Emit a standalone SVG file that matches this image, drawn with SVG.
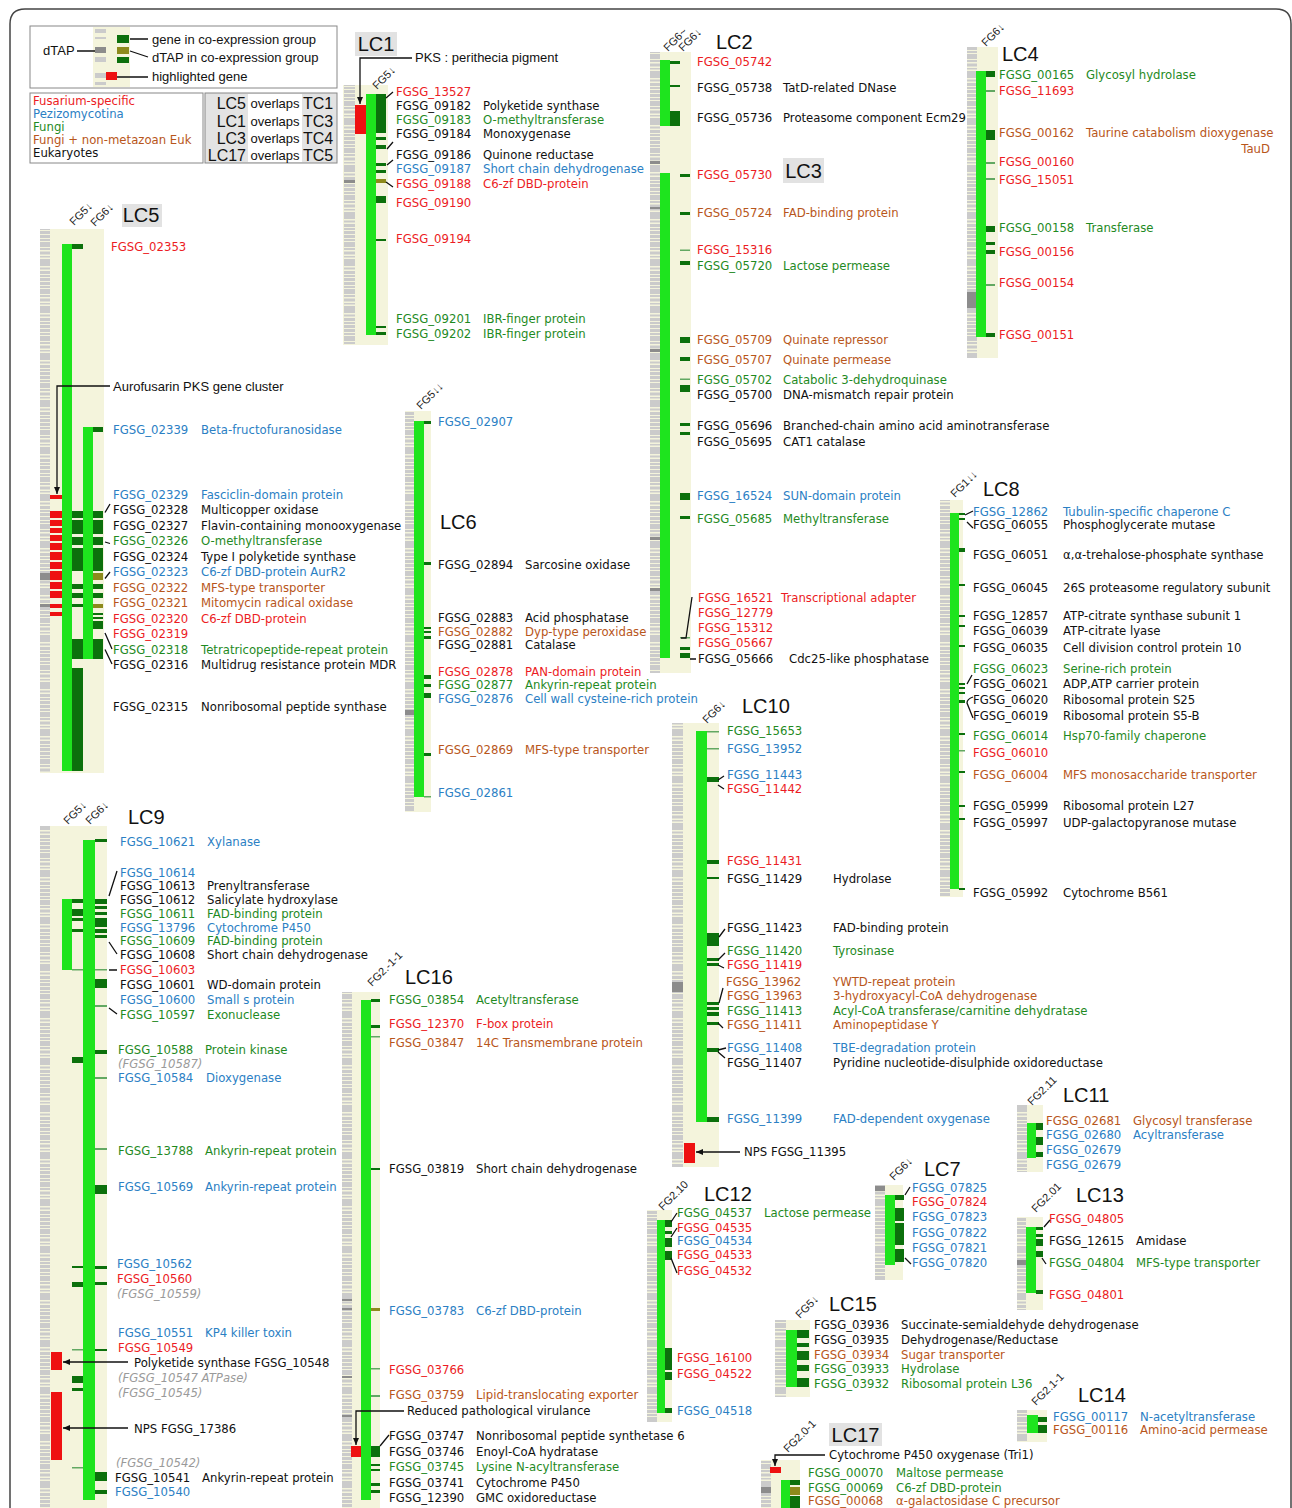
<svg xmlns="http://www.w3.org/2000/svg" width="1292" height="1508" viewBox="0 0 1292 1508">
<defs>
<style>
.t{font-family:"DejaVu Sans",Verdana,sans-serif;font-size:11.7px}
.r{fill:#ec1c24}.b{fill:#2b80c4}.g{fill:#1f8a1f}.o{fill:#b8561b}.k{fill:#111}.i{fill:#9a9a9a;font-style:italic}
.lc{font-family:"Liberation Sans",Arial,sans-serif;font-size:20px;fill:#111}
.fg{font-family:"Liberation Sans",Arial,sans-serif;font-size:11px;fill:#222}
.lg{font-family:"Liberation Sans",Arial,sans-serif;font-size:13px;fill:#111}
.bg{fill:#f4f4dc}.gr{fill:url(#gs)}.gb{fill:#1ee41e}.dg{fill:#0c700c}.lm{fill:#62a862}.ol{fill:#8d8a1c}.rd{fill:#ee1111}.dk{fill:#8c8c8c}
.ln{stroke:#111;stroke-width:1.3;fill:none}
.lbox{fill:#e2e2e2}
</style>
<pattern id="gs" patternUnits="userSpaceOnUse" width="12" height="47">
<path fill="#cbcbcb" d="M0 0h12v3H0z M0 4h12v2H0z M0 7h12v5H0z M0 13h12v2H0z M0 16.5h12v3H0z M0 21h12v1.5H0z M0 24h12v7H0z M0 32.5h12v2H0z M0 36h12v3H0z M0 40h12v2H0z M0 43h12v3H0z"/>
</pattern>
<marker id="ah" markerUnits="userSpaceOnUse" markerWidth="8" markerHeight="8" refX="7" refY="4" orient="auto"><path d="M0,1 L7,4 L0,7 z" fill="#111"/></marker>
</defs>
<rect width="1292" height="1508" fill="#fff"/>
<path d="M10,1508 V24 Q10,9 25,9 H1276 Q1291,9 1291,24 V1508" fill="none" stroke="#444" stroke-width="1.5"/>

<g id="legend">
<rect x="30" y="26" width="307" height="62" fill="#fff" stroke="#888"/>
<rect class="bg" x="93" y="27" width="37" height="60"/>
<path fill="#cbcbcb" d="M95 29h11v4H95z M95 37h11v2H95z M95 57h11v5H95z M95 73h11v5H95z M95 82h11v3H95z"/>
<rect class="dk" x="95" y="47" width="11" height="6"/>
<rect class="dg" x="117" y="35" width="12" height="8"/>
<rect class="ol" x="117" y="47" width="12" height="7"/>
<rect class="dg" x="117" y="57" width="12" height="6"/>
<rect class="rd" x="106" y="72" width="11" height="8"/>
<text class="lg" x="43" y="55">dTAP</text>
<text class="lg" x="152" y="43.5">gene in co-expression group</text>
<text class="lg" x="152" y="62">dTAP in co-expression group</text>
<text class="lg" x="152" y="81">highlighted gene</text>
<rect x="30" y="93" width="173" height="70" fill="#fff" stroke="#888"/>
<text class="t r" x="33" y="105">Fusarium-specific</text>
<text class="t b" x="33" y="117.5">Pezizomycotina</text>
<text class="t g" x="33" y="130.5">Fungi</text>
<text class="t o" x="33" y="143.5">Fungi + non-metazoan Euk</text>
<text class="t k" x="33" y="157">Eukaryotes</text>
<rect x="205" y="93" width="132" height="70" fill="#e3e3e3" stroke="#888"/>
<rect x="248" y="94" width="54" height="68" fill="#fff"/>
<g font-family="Liberation Sans,Arial,sans-serif" fill="#111">
<text x="246" y="109" font-size="16" text-anchor="end">LC5</text><text x="275" y="107.5" font-size="13" text-anchor="middle">overlaps</text><text x="303" y="109" font-size="16">TC1</text>
<text x="246" y="127" font-size="16" text-anchor="end">LC1</text><text x="275" y="125.5" font-size="13" text-anchor="middle">overlaps</text><text x="303" y="127" font-size="16">TC3</text>
<text x="246" y="144" font-size="16" text-anchor="end">LC3</text><text x="275" y="142.5" font-size="13" text-anchor="middle">overlaps</text><text x="303" y="144" font-size="16">TC4</text>
<text x="246" y="161" font-size="16" text-anchor="end">LC17</text><text x="275" y="159.5" font-size="13" text-anchor="middle">overlaps</text><text x="303" y="161" font-size="16">TC5</text>
</g>
</g>

<g id="LC1">
<rect class="bg" x="343" y="85" width="45" height="260"/>
<rect class="gr" x="344" y="85" width="11" height="260"/>
<rect class="dk" x="344" y="180" width="11" height="3"/>
<rect class="rd" x="355" y="105" width="11" height="29"/>
<rect class="gb" x="366" y="94" width="10" height="241"/>
<path class="dg" d="M376 94h10v39h-10z M376 137h10v3h-10z M376 145h10v4h-10z M376 163h10v3h-10z M376 170h10v3h-10z M376 196h10v7h-10z M376 239h10v2h-10z M376 326h10v2h-10z M376 332h10v3h-10z"/>
<rect class="ol" x="376" y="179" width="10" height="4"/>
<rect class="lbox" x="355" y="32" width="42" height="24"/>
<text class="lc" x="376" y="51" text-anchor="middle">LC1</text>
<text class="fg" transform="translate(377,90) rotate(-45)">FG5↓</text>
<text class="lg" x="415" y="62">PKS : perithecia pigment</text>
<text class="t r" y="96"><tspan x="396">FGSG_13527</tspan></text>
<text class="t k" y="110"><tspan x="396">FGSG_09182</tspan><tspan x="483">Polyketide synthase</tspan></text>
<text class="t g" y="124"><tspan x="396">FGSG_09183</tspan><tspan x="483">O-methyltransferase</tspan></text>
<text class="t k" y="138"><tspan x="396">FGSG_09184</tspan><tspan x="483">Monoxygenase</tspan></text>
<text class="t k" y="159"><tspan x="396">FGSG_09186</tspan><tspan x="483">Quinone reductase</tspan></text>
<text class="t b" y="173"><tspan x="396">FGSG_09187</tspan><tspan x="483">Short chain dehydrogenase</tspan></text>
<text class="t r" y="188"><tspan x="396">FGSG_09188</tspan><tspan x="483">C6-zf DBD-protein</tspan></text>
<text class="t r" y="207"><tspan x="396">FGSG_09190</tspan></text>
<text class="t r" y="243"><tspan x="396">FGSG_09194</tspan></text>
<text class="t g" y="323"><tspan x="396">FGSG_09201</tspan><tspan x="483">IBR-finger protein</tspan></text>
<text class="t g" y="338"><tspan x="396">FGSG_09202</tspan><tspan x="483">IBR-finger protein</tspan></text>
</g>

<g id="LC2-LC3">
<rect class="bg" x="650" y="52" width="41" height="621"/>
<rect class="gr" x="650" y="52" width="10" height="621"/>
<path class="dk" d="M650 161h10v3h-10z M650 207h10v2h-10z M650 349h10v3h-10z M650 537h10v3h-10z M650 588h10v3h-10z"/>
<rect class="gb" x="660" y="60" width="10" height="66"/>
<path class="dg" d="M670 61h10v3h-10z M670 85h10v2h-10z M670 111h10v15h-10z"/>
<rect class="gb" x="660" y="173" width="10" height="485"/>
<path class="dg" d="M680 174h10v3h-10z M680 212h10v3h-10z M680 261h10v4h-10z M680 337h10v6h-10z M680 357h10v4h-10z M680 385h10v7h-10z M680 423h10v3h-10z M680 432h10v3h-10z M680 493h10v7h-10z M680 516h10v3h-10z M680 647h10v3h-10z M680 653h10v5h-10z"/>
<path class="lm" d="M680 249.5h10v1.5h-10z M680 378.5h10v1.5h-10z M680 637h10v1.5h-10z"/>
<text class="fg" transform="translate(668,52) rotate(-45)">FG6~</text>
<text class="fg" transform="translate(683,52) rotate(-45)">FG6↓</text>
<text class="lc" x="716" y="49">LC2</text>
<rect class="lbox" x="783" y="158" width="41" height="25"/>
<text class="lc" x="803.5" y="178" text-anchor="middle">LC3</text>
<text class="t r" y="66"><tspan x="697">FGSG_05742</tspan></text>
<text class="t k" y="92"><tspan x="697">FGSG_05738</tspan><tspan x="783">TatD-related DNase</tspan></text>
<text class="t k" y="122"><tspan x="697">FGSG_05736</tspan><tspan x="783">Proteasome component Ecm29</tspan></text>
<text class="t r" y="179"><tspan x="697">FGSG_05730</tspan></text>
<text class="t o" y="217"><tspan x="697">FGSG_05724</tspan><tspan x="783">FAD-binding protein</tspan></text>
<text class="t r" y="254"><tspan x="697">FGSG_15316</tspan></text>
<text class="t g" y="270"><tspan x="697">FGSG_05720</tspan><tspan x="783">Lactose permease</tspan></text>
<text class="t o" y="344"><tspan x="697">FGSG_05709</tspan><tspan x="783">Quinate repressor</tspan></text>
<text class="t o" y="364"><tspan x="697">FGSG_05707</tspan><tspan x="783">Quinate permease</tspan></text>
<text class="t g" y="384"><tspan x="697">FGSG_05702</tspan><tspan x="783">Catabolic 3-dehydroquinase</tspan></text>
<text class="t k" y="399"><tspan x="697">FGSG_05700</tspan><tspan x="783">DNA-mismatch repair protein</tspan></text>
<text class="t k" y="430"><tspan x="697">FGSG_05696</tspan><tspan x="783">Branched-chain amino acid aminotransferase</tspan></text>
<text class="t k" y="446"><tspan x="697">FGSG_05695</tspan><tspan x="783">CAT1 catalase</tspan></text>
<text class="t b" y="500"><tspan x="697">FGSG_16524</tspan><tspan x="783">SUN-domain protein</tspan></text>
<text class="t g" y="523"><tspan x="697">FGSG_05685</tspan><tspan x="783">Methyltransferase</tspan></text>
<text class="t r" y="602"><tspan x="698">FGSG_16521</tspan><tspan x="781">Transcriptional adapter</tspan></text>
<text class="t r" y="617"><tspan x="698">FGSG_12779</tspan></text>
<text class="t r" y="632"><tspan x="698">FGSG_15312</tspan></text>
<text class="t r" y="647"><tspan x="698">FGSG_05667</tspan></text>
<text class="t k" y="663"><tspan x="698">FGSG_05666</tspan><tspan x="789">Cdc25-like phosphatase</tspan></text>
</g>

<g id="LC4">
<rect class="bg" x="967" y="47" width="31" height="311"/>
<rect class="gr" x="967" y="47" width="10" height="311"/>
<rect class="dk" x="967" y="292" width="10" height="16"/>
<rect class="gb" x="976" y="71" width="10" height="266"/>
<path class="dg" d="M986 71h9v6h-9z M986 130h9v10h-9z M986 226h9v6h-9z M986 242h9v3h-9z M986 250h9v4h-9z M986 333h9v4h-9z"/>
<path class="lm" d="M986 90h9v2h-9z M986 162h9v2h-9z M986 178h9v2h-9z M986 284h9v2h-9z"/>
<text class="fg" transform="translate(986,47) rotate(-45)">FG6↓</text>
<text class="lc" x="1002" y="61">LC4</text>
<text class="t g" y="79"><tspan x="999">FGSG_00165</tspan><tspan x="1086">Glycosyl hydrolase</tspan></text>
<text class="t r" y="95"><tspan x="999">FGSG_11693</tspan></text>
<text class="t o" y="137"><tspan x="999">FGSG_00162</tspan><tspan x="1086">Taurine catabolism dioxygenase</tspan></text>
<text class="t o" x="1270" y="153" text-anchor="end">TauD</text>
<text class="t r" y="166"><tspan x="999">FGSG_00160</tspan></text>
<text class="t r" y="184"><tspan x="999">FGSG_15051</tspan></text>
<text class="t g" y="232"><tspan x="999">FGSG_00158</tspan><tspan x="1086">Transferase</tspan></text>
<text class="t r" y="256"><tspan x="999">FGSG_00156</tspan></text>
<text class="t r" y="287"><tspan x="999">FGSG_00154</tspan></text>
<text class="t r" y="339"><tspan x="999">FGSG_00151</tspan></text>
</g>

<g id="LC5">
<rect class="bg" x="40" y="229" width="64" height="544"/>
<rect class="gr" x="40" y="229" width="10" height="544"/>
<path class="dk" d="M40 573h10v7h-10z M40 604h10v3h-10z"/>
<path class="rd" d="M50 495h12v4h-12z M50 511h12v7h-12z M50 520h12v6h-12z M50 528h12v5h-12z M50 535h12v6h-12z M50 543h12v7h-12z M50 552h12v8h-12z M50 562h12v7h-12z M50 571h12v9h-12z M50 582h12v7h-12z M50 591h12v7h-12z M50 604h12v4h-12z M50 612h12v4h-12z"/>
<rect class="gb" x="62" y="244" width="10" height="527"/>
<rect class="gb" x="83" y="427" width="10" height="232"/>
<path class="dg" d="M72 244h11v5h-11z M72 511h11v7h-11z M72 520h11v14h-11z M72 537h11v8h-11z M72 548h11v23h-11z M72 584h11v5h-11z M72 593h11v5h-11z M72 604h11v3h-11z M72 639h11v20h-11z M72 668h11v103h-11z"/>
<path class="dg" d="M93 427h10v5h-10z M93 511h10v7h-10z M93 520h10v14h-10z M93 537h10v8h-10z M93 548h10v23h-10z M93 584h10v5h-10z M93 593h10v5h-10z M93 613h10v2h-10z M93 617h10v2h-10z M93 621h10v8h-10z M93 639h10v20h-10z"/>
<path class="ol" d="M93 573h10v7h-10z M93 604h10v4h-10z"/>
<text class="fg" transform="translate(74,226) rotate(-45)">FG5↓</text>
<text class="fg" transform="translate(95,227) rotate(-45)">FG6↓</text>
<rect class="lbox" x="122" y="204" width="40" height="23"/>
<text class="lc" x="141" y="222" text-anchor="middle">LC5</text>
<text class="t r" y="251"><tspan x="111">FGSG_02353</tspan></text>
<text class="lg" x="113" y="391">Aurofusarin PKS gene cluster</text>
<text class="t b" y="434"><tspan x="113">FGSG_02339</tspan><tspan x="201">Beta-fructofuranosidase</tspan></text>
<text class="t b" y="498.5"><tspan x="113">FGSG_02329</tspan><tspan x="201">Fasciclin-domain protein</tspan></text>
<text class="t k" y="514"><tspan x="113">FGSG_02328</tspan><tspan x="201">Multicopper oxidase</tspan></text>
<text class="t k" y="529.5"><tspan x="113">FGSG_02327</tspan><tspan x="201">Flavin-containing monooxygenase</tspan></text>
<text class="t g" y="545"><tspan x="113">FGSG_02326</tspan><tspan x="201">O-methyltransferase</tspan></text>
<text class="t k" y="560.5"><tspan x="113">FGSG_02324</tspan><tspan x="201">Type I polyketide synthase</tspan></text>
<text class="t b" y="576"><tspan x="113">FGSG_02323</tspan><tspan x="201">C6-zf DBD-protein AurR2</tspan></text>
<text class="t o" y="591.5"><tspan x="113">FGSG_02322</tspan><tspan x="201">MFS-type transporter</tspan></text>
<text class="t o" y="607"><tspan x="113">FGSG_02321</tspan><tspan x="201">Mitomycin radical oxidase</tspan></text>
<text class="t r" y="622.5"><tspan x="113">FGSG_02320</tspan><tspan x="201">C6-zf DBD-protein</tspan></text>
<text class="t r" y="638"><tspan x="113">FGSG_02319</tspan></text>
<text class="t g" y="653.5"><tspan x="113">FGSG_02318</tspan><tspan x="201">Tetratricopeptide-repeat protein</tspan></text>
<text class="t k" y="669"><tspan x="113">FGSG_02316</tspan><tspan x="201">Multidrug resistance protein MDR</tspan></text>
<text class="t k" y="711"><tspan x="113">FGSG_02315</tspan><tspan x="201">Nonribosomal peptide synthase</tspan></text>
</g>

<g id="LC6">
<rect class="bg" x="405" y="411" width="26" height="401"/>
<rect class="gr" x="405" y="411" width="9" height="401"/>
<rect class="dk" x="405" y="710" width="9" height="5"/>
<rect class="gb" x="414" y="421" width="10" height="376"/>
<path class="dg" d="M424 421h7v3h-7z M424 562h7v3h-7z M424 627h7v2h-7z M424 631h7v2h-7z M424 636h7v3h-7z M424 675h7v4h-7z M424 684h7v3h-7z M424 693h7v5h-7z M424 753h7v3h-7z"/>
<rect class="lm" x="424" y="796" width="7" height="1.5"/>
<text class="fg" transform="translate(421,410) rotate(-45)">FG5↓↓</text>
<text class="lc" x="440" y="529">LC6</text>
<text class="t b" y="426"><tspan x="438">FGSG_02907</tspan></text>
<text class="t k" y="569"><tspan x="438">FGSG_02894</tspan><tspan x="525">Sarcosine oxidase</tspan></text>
<text class="t k" y="622"><tspan x="438">FGSG_02883</tspan><tspan x="525">Acid phosphatase</tspan></text>
<text class="t o" y="636"><tspan x="438">FGSG_02882</tspan><tspan x="525">Dyp-type peroxidase</tspan></text>
<text class="t k" y="649"><tspan x="438">FGSG_02881</tspan><tspan x="525">Catalase</tspan></text>
<text class="t r" y="676"><tspan x="438">FGSG_02878</tspan><tspan x="525">PAN-domain protein</tspan></text>
<text class="t g" y="689"><tspan x="438">FGSG_02877</tspan><tspan x="525">Ankyrin-repeat protein</tspan></text>
<text class="t b" y="703"><tspan x="438">FGSG_02876</tspan><tspan x="525">Cell wall cysteine-rich protein</tspan></text>
<text class="t o" y="754"><tspan x="438">FGSG_02869</tspan><tspan x="525">MFS-type transporter</tspan></text>
<text class="t b" y="797"><tspan x="438">FGSG_02861</tspan></text>
</g>

<g id="LC8">
<rect class="bg" x="940" y="500" width="23" height="397"/>
<rect class="gr" x="940" y="500" width="10" height="397"/>
<rect class="gb" x="950" y="513" width="9" height="376"/>
<path class="dg" d="M959 513h6v2h-6z M959 518h6v2h-6z M959 548h6v4h-6z M959 584h6v2h-6z M959 615h6v2h-6z M959 625h6v2h-6z M959 645h6v2h-6z M959 683h6v2h-6z M959 687h6v2h-6z M959 692h6v2h-6z M959 700h6v3h-6z M959 733h6v2h-6z M959 771h6v2h-6z M959 805h6v2h-6z M959 818h6v2h-6z M959 888h6v2h-6z"/>
<rect class="lm" x="959" y="750" width="6" height="1.5"/>
<text class="fg" transform="translate(955,498) rotate(-45)">FG1↓↓</text>
<text class="lc" x="983" y="496">LC8</text>
<text class="t b" y="516"><tspan x="973">FGSG_12862</tspan><tspan x="1063">Tubulin-specific chaperone C</tspan></text>
<text class="t k" y="529"><tspan x="973">FGSG_06055</tspan><tspan x="1063">Phosphoglycerate mutase</tspan></text>
<text class="t k" y="559"><tspan x="973">FGSG_06051</tspan><tspan x="1063">α,α-trehalose-phosphate synthase</tspan></text>
<text class="t k" y="592"><tspan x="973">FGSG_06045</tspan><tspan x="1063">26S proteasome regulatory subunit</tspan></text>
<text class="t k" y="620"><tspan x="973">FGSG_12857</tspan><tspan x="1063">ATP-citrate synthase subunit 1</tspan></text>
<text class="t k" y="635"><tspan x="973">FGSG_06039</tspan><tspan x="1063">ATP-citrate lyase</tspan></text>
<text class="t k" y="652"><tspan x="973">FGSG_06035</tspan><tspan x="1063">Cell division control protein 10</tspan></text>
<text class="t g" y="673"><tspan x="973">FGSG_06023</tspan><tspan x="1063">Serine-rich protein</tspan></text>
<text class="t k" y="688"><tspan x="973">FGSG_06021</tspan><tspan x="1063">ADP,ATP carrier protein</tspan></text>
<text class="t k" y="704"><tspan x="973">FGSG_06020</tspan><tspan x="1063">Ribosomal protein S25</tspan></text>
<text class="t k" y="720"><tspan x="973">FGSG_06019</tspan><tspan x="1063">Ribosomal protein S5-B</tspan></text>
<text class="t g" y="740"><tspan x="973">FGSG_06014</tspan><tspan x="1063">Hsp70-family chaperone</tspan></text>
<text class="t r" y="757"><tspan x="973">FGSG_06010</tspan></text>
<text class="t o" y="779"><tspan x="973">FGSG_06004</tspan><tspan x="1063">MFS monosaccharide transporter</tspan></text>
<text class="t k" y="810"><tspan x="973">FGSG_05999</tspan><tspan x="1063">Ribosomal protein L27</tspan></text>
<text class="t k" y="827"><tspan x="973">FGSG_05997</tspan><tspan x="1063">UDP-galactopyranose mutase</tspan></text>
<text class="t k" y="897"><tspan x="973">FGSG_05992</tspan><tspan x="1063">Cytochrome B561</tspan></text>
</g>

<g id="LC9">
<rect class="bg" x="40" y="826" width="67" height="682"/>
<rect class="gr" x="40" y="826" width="10" height="682"/>
<path class="rd" d="M51 1352h11v18h-11z M51 1392h11v68h-11z"/>
<rect class="gb" x="62" y="899" width="10" height="71"/>
<rect class="lm" x="72" y="969" width="35" height="1.5"/>
<rect class="gb" x="83" y="840" width="12" height="660"/>
<path class="dg" d="M72 899h11v4h-11z M72 909h11v7h-11z M72 918h11v3h-11z M72 929h11v3h-11z M72 1057h11v6h-11z M72 1266h11v2h-11z M72 1282h11v5h-11z M72 1376h11v7h-11z M72 1388h11v3h-11z"/>
<path class="lm" d="M72 1349h11v1.5h-11z M72 1467h11v1.5h-11z"/>
<path class="dg" d="M95 839h12v3h-12z M95 899h12v5h-12z M95 906h12v3h-12z M95 912h12v3h-12z M95 918h12v9h-12z M95 929h12v4h-12z M95 935h12v3h-12z M95 979h12v9h-12z M95 1050h12v4h-12z M95 1185h12v9h-12z M95 1266h12v3h-12z M95 1282h12v3h-12z M95 1349h12v2h-12z M95 1472h12v9h-12z M95 1490h12v4h-12z"/>
<path class="lm" d="M95 1005h12v2h-12z M95 1077h12v2h-12z M95 1148h12v2h-12z"/>
<text class="fg" transform="translate(68,825) rotate(-45)">FG5↓</text>
<text class="fg" transform="translate(90,825) rotate(-45)">FG6↓</text>
<text class="lc" x="128" y="824">LC9</text>
<text class="t b" y="845.5"><tspan x="120">FGSG_10621</tspan><tspan x="207">Xylanase</tspan></text>
<text class="t b" y="877"><tspan x="120">FGSG_10614</tspan></text>
<text class="t k" y="890"><tspan x="120">FGSG_10613</tspan><tspan x="207">Prenyltransferase</tspan></text>
<text class="t k" y="904"><tspan x="120">FGSG_10612</tspan><tspan x="207">Salicylate hydroxylase</tspan></text>
<text class="t g" y="918"><tspan x="120">FGSG_10611</tspan><tspan x="207">FAD-binding protein</tspan></text>
<text class="t b" y="931.5"><tspan x="120">FGSG_13796</tspan><tspan x="207">Cytochrome P450</tspan></text>
<text class="t g" y="945"><tspan x="120">FGSG_10609</tspan><tspan x="207">FAD-binding protein</tspan></text>
<text class="t k" y="959"><tspan x="120">FGSG_10608</tspan><tspan x="207">Short chain dehydrogenase</tspan></text>
<text class="t r" y="974"><tspan x="120">FGSG_10603</tspan></text>
<text class="t k" y="988.5"><tspan x="120">FGSG_10601</tspan><tspan x="207">WD-domain protein</tspan></text>
<text class="t b" y="1004"><tspan x="120">FGSG_10600</tspan><tspan x="207">Small s protein</tspan></text>
<text class="t g" y="1019"><tspan x="120">FGSG_10597</tspan><tspan x="207">Exonuclease</tspan></text>
<text class="t g" y="1054"><tspan x="118">FGSG_10588</tspan><tspan x="205">Protein kinase</tspan></text>
<text class="t i" x="118" y="1067.5">(FGSG_10587)</text>
<text class="t b" y="1082"><tspan x="118">FGSG_10584</tspan><tspan x="206">Dioxygenase</tspan></text>
<text class="t g" y="1154.5"><tspan x="118">FGSG_13788</tspan><tspan x="205">Ankyrin-repeat protein</tspan></text>
<text class="t b" y="1191"><tspan x="118">FGSG_10569</tspan><tspan x="205">Ankyrin-repeat protein</tspan></text>
<text class="t b" y="1267.5"><tspan x="117">FGSG_10562</tspan></text>
<text class="t r" y="1283"><tspan x="117">FGSG_10560</tspan></text>
<text class="t i" x="117" y="1298">(FGSG_10559)</text>
<text class="t b" y="1337"><tspan x="118">FGSG_10551</tspan><tspan x="205">KP4 killer toxin</tspan></text>
<text class="t r" y="1351.5"><tspan x="118">FGSG_10549</tspan></text>
<text class="t k" x="134" y="1366.5">Polyketide synthase FGSG_10548</text>
<text class="t i" x="118" y="1381.5">(FGSG_10547 ATPase)</text>
<text class="t i" x="118" y="1397">(FGSG_10545)</text>
<text class="t k" x="134" y="1432.5">NPS FGSG_17386</text>
<text class="t i" x="116" y="1467">(FGSG_10542)</text>
<text class="t k" y="1482"><tspan x="115">FGSG_10541</tspan><tspan x="202">Ankyrin-repeat protein</tspan></text>
<text class="t b" y="1496"><tspan x="115">FGSG_10540</tspan></text>
</g>

<g id="LC16">
<rect class="bg" x="342" y="992" width="38" height="516"/>
<rect class="gr" x="342" y="992" width="10" height="516"/>
<path class="dk" d="M342 1299h10v2h-10z M342 1308h10v2h-10z M342 1376h10v2h-10z M342 1415h10v2h-10z"/>
<rect class="rd" x="351" y="1446" width="10" height="11"/>
<rect class="gb" x="361" y="1000" width="10" height="500"/>
<path class="dg" d="M371 999h9v3h-9z M371 1025h9v3h-9z M371 1168h9v2h-9z M371 1446h9v11h-9z M371 1464h9v2h-9z M371 1469h9v2h-9z M371 1483h9v3h-9z M371 1490h9v3h-9z"/>
<path class="lm" d="M371 1036h9v1.5h-9z M371 1368h9v1.5h-9z M371 1395h9v2h-9z"/>
<rect class="ol" x="371" y="1308" width="9" height="3"/>
<text class="fg" transform="translate(372,987) rotate(-45)">FG2.-1-1</text>
<text class="lc" x="405" y="984">LC16</text>
<text class="t g" y="1004"><tspan x="389">FGSG_03854</tspan><tspan x="476">Acetyltransferase</tspan></text>
<text class="t r" y="1028"><tspan x="389">FGSG_12370</tspan><tspan x="476">F-box protein</tspan></text>
<text class="t o" y="1047"><tspan x="389">FGSG_03847</tspan><tspan x="476">14C Transmembrane protein</tspan></text>
<text class="t k" y="1173"><tspan x="389">FGSG_03819</tspan><tspan x="476">Short chain dehydrogenase</tspan></text>
<text class="t b" y="1315"><tspan x="389">FGSG_03783</tspan><tspan x="476">C6-zf DBD-protein</tspan></text>
<text class="t r" y="1374"><tspan x="389">FGSG_03766</tspan></text>
<text class="t o" y="1399"><tspan x="389">FGSG_03759</tspan><tspan x="476">Lipid-translocating exporter</tspan></text>
<text class="t k" x="407" y="1415">Reduced pathological virulance</text>
<text class="t k" y="1440"><tspan x="389">FGSG_03747</tspan><tspan x="476">Nonribosomal peptide synthetase 6</tspan></text>
<text class="t k" y="1455.5"><tspan x="389">FGSG_03746</tspan><tspan x="476">Enoyl-CoA hydratase</tspan></text>
<text class="t g" y="1471"><tspan x="389">FGSG_03745</tspan><tspan x="476">Lysine N-acyltransferase</tspan></text>
<text class="t k" y="1487"><tspan x="389">FGSG_03741</tspan><tspan x="476">Cytochrome P450</tspan></text>
<text class="t k" y="1502"><tspan x="389">FGSG_12390</tspan><tspan x="476">GMC oxidoreductase</tspan></text>
</g>

<g id="LC10">
<rect class="bg" x="672" y="723" width="47" height="444"/>
<rect class="gr" x="672" y="723" width="11" height="444"/>
<rect class="dk" x="672" y="982" width="11" height="10"/>
<rect class="rd" x="684" y="1143" width="11" height="20"/>
<rect class="gb" x="696" y="731" width="11" height="391"/>
<path class="dg" d="M707 777h12v5h-12z M707 860h12v4h-12z M707 877h12v2h-12z M707 933h12v13h-12z M707 958h12v3h-12z M707 963h12v3h-12z M707 1002h12v3h-12z M707 1007h12v3h-12z M707 1012h12v4h-12z M707 1022h12v3h-12z M707 1048h12v4h-12z M707 1117h12v5h-12z"/>
<path class="lm" d="M707 731h12v1.5h-12z M707 748h12v1.5h-12z"/>
<text class="fg" transform="translate(707,724) rotate(-45)">FG6↓</text>
<text class="lc" x="742" y="713">LC10</text>
<text class="t g" y="735"><tspan x="727">FGSG_15653</tspan></text>
<text class="t b" y="752.5"><tspan x="727">FGSG_13952</tspan></text>
<text class="t b" y="779"><tspan x="727">FGSG_11443</tspan></text>
<text class="t r" y="793"><tspan x="727">FGSG_11442</tspan></text>
<text class="t r" y="865"><tspan x="727">FGSG_11431</tspan></text>
<text class="t k" y="883"><tspan x="727">FGSG_11429</tspan><tspan x="833">Hydrolase</tspan></text>
<text class="t k" y="932"><tspan x="727">FGSG_11423</tspan><tspan x="833">FAD-binding protein</tspan></text>
<text class="t g" y="955"><tspan x="727">FGSG_11420</tspan><tspan x="833">Tyrosinase</tspan></text>
<text class="t r" y="969"><tspan x="727">FGSG_11419</tspan></text>
<text class="t o" y="985.5"><tspan x="726">FGSG_13962</tspan><tspan x="833">YWTD-repeat protein</tspan></text>
<text class="t o" y="1000"><tspan x="727">FGSG_13963</tspan><tspan x="833">3-hydroxyacyl-CoA dehydrogenase</tspan></text>
<text class="t g" y="1015"><tspan x="727">FGSG_11413</tspan><tspan x="833">Acyl-CoA transferase/carnitine dehydratase</tspan></text>
<text class="t o" y="1029"><tspan x="727">FGSG_11411</tspan><tspan x="833">Aminopeptidase Y</tspan></text>
<text class="t b" y="1052"><tspan x="727">FGSG_11408</tspan><tspan x="833">TBE-degradation protein</tspan></text>
<text class="t k" y="1067"><tspan x="727">FGSG_11407</tspan><tspan x="833">Pyridine nucleotide-disulphide oxidoreductase</tspan></text>
<text class="t b" y="1123"><tspan x="727">FGSG_11399</tspan><tspan x="833">FAD-dependent oxygenase</tspan></text>
<text class="t k" x="744" y="1156">NPS FGSG_11395</text>
</g>

<g id="LC11">
<rect class="bg" x="1017" y="1105" width="26" height="67"/>
<rect class="gr" x="1017" y="1105" width="10" height="67"/>
<rect class="gb" x="1027" y="1123" width="9" height="35"/>
<path class="dg" d="M1036 1123h7v7h-7z M1036 1137h7v8h-7z M1036 1152h7v5h-7z"/>
<text class="fg" transform="translate(1032,1106) rotate(-45)">FG2.11</text>
<text class="lc" x="1063" y="1102">LC11</text>
<text class="t o" y="1124.5"><tspan x="1046">FGSG_02681</tspan><tspan x="1133">Glycosyl transferase</tspan></text>
<text class="t b" y="1139"><tspan x="1046">FGSG_02680</tspan><tspan x="1133">Acyltransferase</tspan></text>
<text class="t b" y="1154"><tspan x="1046">FGSG_02679</tspan></text>
<text class="t b" y="1169"><tspan x="1046">FGSG_02679</tspan></text>
</g>

<g id="LC7">
<rect class="bg" x="875" y="1185" width="28" height="95"/>
<rect class="gr" x="875" y="1185" width="10" height="95"/>
<rect class="dk" x="875" y="1186" width="10" height="5"/>
<rect class="gb" x="885" y="1195" width="10" height="70"/>
<path class="dg" d="M895 1195h9v5h-9z M895 1208h9v13h-9z M895 1223h9v22h-9z M895 1249h9v13h-9z"/>
<text class="fg" transform="translate(894,1181) rotate(-45)">FG6↓</text>
<text class="lc" x="924" y="1176">LC7</text>
<text class="t b" y="1192"><tspan x="912">FGSG_07825</tspan></text>
<text class="t r" y="1206"><tspan x="912">FGSG_07824</tspan></text>
<text class="t b" y="1221"><tspan x="912">FGSG_07823</tspan></text>
<text class="t b" y="1236.5"><tspan x="912">FGSG_07822</tspan></text>
<text class="t b" y="1251.5"><tspan x="912">FGSG_07821</tspan></text>
<text class="t b" y="1267"><tspan x="912">FGSG_07820</tspan></text>
</g>

<g id="LC12">
<rect class="bg" x="647" y="1210" width="25" height="212"/>
<rect class="gr" x="647" y="1210" width="10" height="212"/>
<rect class="gb" x="657" y="1220" width="8" height="193"/>
<path class="dg" d="M665 1220h7v7h-7z M665 1231h7v3h-7z M665 1238h7v9h-7z M665 1251h7v9h-7z M665 1348h7v22h-7z M665 1372h7v8h-7z M665 1408h7v5h-7z"/>
<text class="fg" transform="translate(663,1211) rotate(-45)">FG2.10</text>
<text class="lc" x="704" y="1201">LC12</text>
<text class="t g" y="1216.5"><tspan x="677">FGSG_04537</tspan><tspan x="764">Lactose permease</tspan></text>
<text class="t r" y="1231.5"><tspan x="677">FGSG_04535</tspan></text>
<text class="t b" y="1245"><tspan x="677">FGSG_04534</tspan></text>
<text class="t r" y="1259"><tspan x="677">FGSG_04533</tspan></text>
<text class="t r" y="1274.5"><tspan x="677">FGSG_04532</tspan></text>
<text class="t r" y="1362"><tspan x="677">FGSG_16100</tspan></text>
<text class="t r" y="1378"><tspan x="677">FGSG_04522</tspan></text>
<text class="t b" y="1415"><tspan x="677">FGSG_04518</tspan></text>
</g>

<g id="LC13">
<rect class="bg" x="1017" y="1217" width="26" height="93"/>
<rect class="gr" x="1017" y="1217" width="9" height="93"/>
<rect class="dk" x="1017" y="1260" width="9" height="5"/>
<rect class="gb" x="1026" y="1227" width="10" height="66"/>
<path class="dg" d="M1036 1227h7v3h-7z M1036 1234h7v3h-7z M1036 1239h7v7h-7z M1036 1251h7v6h-7z M1036 1290h7v4h-7z"/>
<text class="fg" transform="translate(1036,1213) rotate(-45)">FG2.01</text>
<text class="lc" x="1076" y="1202">LC13</text>
<text class="t r" y="1223"><tspan x="1049">FGSG_04805</tspan></text>
<text class="t k" y="1245"><tspan x="1049">FGSG_12615</tspan><tspan x="1136">Amidase</tspan></text>
<text class="t g" y="1267"><tspan x="1049">FGSG_04804</tspan><tspan x="1136">MFS-type transporter</tspan></text>
<text class="t r" y="1299"><tspan x="1049">FGSG_04801</tspan></text>
</g>

<g id="LC15">
<rect class="bg" x="775" y="1320" width="35" height="77"/>
<rect class="gr" x="775" y="1320" width="11" height="77"/>
<rect class="gb" x="786" y="1330" width="11" height="57"/>
<path class="dg" d="M797 1330h12v8h-12z M797 1343h12v4h-12z M797 1351h12v9h-12z M797 1365h12v6h-12z M797 1378h12v9h-12z"/>
<text class="fg" transform="translate(800,1319) rotate(-45)">FG5↓</text>
<text class="lc" x="829" y="1311">LC15</text>
<text class="t k" y="1329"><tspan x="814">FGSG_03936</tspan><tspan x="901">Succinate-semialdehyde dehydrogenase</tspan></text>
<text class="t k" y="1344"><tspan x="814">FGSG_03935</tspan><tspan x="901">Dehydrogenase/Reductase</tspan></text>
<text class="t o" y="1359"><tspan x="814">FGSG_03934</tspan><tspan x="901">Sugar transporter</tspan></text>
<text class="t g" y="1373"><tspan x="814">FGSG_03933</tspan><tspan x="901">Hydrolase</tspan></text>
<text class="t g" y="1388"><tspan x="814">FGSG_03932</tspan><tspan x="901">Ribosomal protein L36</tspan></text>
</g>

<g id="LC14">
<rect class="bg" x="1017" y="1410" width="30" height="32"/>
<rect class="gr" x="1017" y="1410" width="10" height="32"/>
<rect class="gb" x="1027" y="1415" width="11" height="18"/>
<path class="dg" d="M1038 1417h9v5h-9z M1038 1425h9v8h-9z"/>
<text class="fg" transform="translate(1036,1406) rotate(-45)">FG2.1-1</text>
<text class="lc" x="1078" y="1402">LC14</text>
<text class="t b" y="1421"><tspan x="1053">FGSG_00117</tspan><tspan x="1140">N-acetyltransferase</tspan></text>
<text class="t o" y="1434"><tspan x="1053">FGSG_00116</tspan><tspan x="1140">Amino-acid permease</tspan></text>
</g>

<g id="LC17">
<rect class="bg" x="761" y="1460" width="39" height="48"/>
<rect class="gr" x="761" y="1460" width="10" height="48"/>
<rect class="dk" x="761" y="1487" width="10" height="6"/>
<rect class="rd" x="770" y="1467" width="11" height="6"/>
<rect class="gb" x="781" y="1480" width="9" height="28"/>
<path class="dg" d="M790 1480h10v5h-10z M790 1496h10v12h-10z"/>
<rect class="ol" x="790" y="1487" width="10" height="8"/>
<text class="fg" transform="translate(788,1453) rotate(-45)">FG2.0-1</text>
<rect class="lbox" x="829" y="1423" width="53" height="23"/>
<text class="lc" x="855.5" y="1442" text-anchor="middle">LC17</text>
<text class="t k" x="829" y="1459">Cytochrome P450 oxygenase (Tri1)</text>
<text class="t g" y="1477"><tspan x="808">FGSG_00070</tspan><tspan x="896">Maltose permease</tspan></text>
<text class="t g" y="1492"><tspan x="808">FGSG_00069</tspan><tspan x="896">C6-zf DBD-protein</tspan></text>
<text class="t o" y="1505"><tspan x="808">FGSG_00068</tspan><tspan x="896">α-galactosidase C precursor</tspan></text>
</g>

<g id="connectors" class="ln">
<path d="M77 51H95 M130 39H148 M130 51L148 57 M117 77H148"/>
<polyline points="412,58 360,58 360,104" marker-end="url(#ah)"/>
<polyline points="110,386 57,386 57,494" marker-end="url(#ah)"/>
<polyline points="404,1411 356,1411 356,1445" marker-end="url(#ah)"/>
<polyline points="825,1455 775,1455 775,1466" marker-end="url(#ah)"/>
<line x1="128" y1="1362" x2="63" y2="1362" marker-end="url(#ah)"/>
<line x1="128" y1="1428" x2="63" y2="1428" marker-end="url(#ah)"/>
<line x1="740" y1="1152" x2="696" y2="1152" marker-end="url(#ah)"/>
<path d="M386 98L393 92 M387 149L393 142 M387 165L393 160 M386 182L393 187"/>
<path d="M681 638H686L692 597 M690 659H696"/>
<path d="M965 515L973 511 M967 522L973 528 M967 684L972 675 M973 697Q967 699 967 703L973 718"/>
<path d="M105 512.5L110 504 M105 542L110 543.5 M105 578.5L110 572 M105 633L112 649 M105 649.5L112 664"/>
<path d="M109 896L117 871 M109 942L117 954 M109 970H117 M109 1008L117 1014"/>
<path d="M380 1446L389 1435"/>
<path d="M718 780L724 776 M718 785L724 789 M719 937L725 929 M718 960L725 953 M718 965L724 968 M719 1003L723 988 M718 1023L723 1028 M718 1050L726 1048 M718 1052L725 1058"/>
<path d="M671 1222L677 1213 M671 1237L677 1228 M671 1258L677 1273"/>
<path d="M1044 1227L1050 1220 M1042 1258L1046 1264"/>
<path d="M905 1195L910 1187 M905 1258L911 1264"/>
</g>
</svg>
